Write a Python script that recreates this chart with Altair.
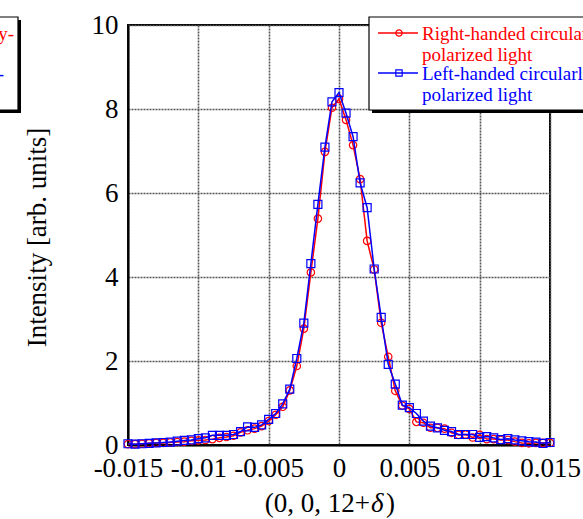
import altair as alt
import pandas as pd

# ---------------- data ----------------
delta = [-0.015, -0.0145, -0.014, -0.0135, -0.013, -0.0125, -0.012, -0.0115, -0.011, -0.0105,
         -0.01, -0.0095, -0.009, -0.0085, -0.008, -0.0075, -0.007, -0.0065, -0.006, -0.0055,
         -0.005, -0.0045, -0.004, -0.0035, -0.003, -0.0025, -0.002, -0.0015, -0.001, -0.0005,
         0.0,
         0.0005, 0.001, 0.0015, 0.002, 0.0025, 0.003, 0.0035, 0.004, 0.0045, 0.005,
         0.0055, 0.006, 0.0065, 0.007, 0.0075, 0.008, 0.0085, 0.009, 0.0095, 0.01,
         0.0105, 0.011, 0.0115, 0.012, 0.0125, 0.013, 0.0135, 0.014, 0.0145, 0.015]

right_handed = [0.02, 0.02, 0.03, 0.04, 0.05, 0.05, 0.06, 0.07, 0.08, 0.10,
                0.11, 0.12, 0.14, 0.17, 0.19, 0.22, 0.30, 0.35, 0.39, 0.45,
                0.57, 0.72, 0.91, 1.30, 1.88, 2.77, 4.11, 5.39, 6.98, 8.03,
                8.24,
                7.74, 7.14, 6.33, 4.86, 4.18, 2.91, 2.10, 1.29, 0.94, 0.86,
                0.55, 0.53, 0.41, 0.41, 0.39, 0.29, 0.24, 0.25, 0.18, 0.24,
                0.14, 0.14, 0.12, 0.12, 0.08, 0.05, 0.04, 0.05, 0.05, 0.05]

left_handed = [0.03, 0.02, 0.03, 0.04, 0.05, 0.06, 0.07, 0.09, 0.11, 0.12,
               0.15, 0.17, 0.23, 0.23, 0.23, 0.25, 0.32, 0.43, 0.42, 0.48,
               0.61, 0.75, 0.98, 1.33, 2.06, 2.90, 4.32, 5.73, 7.09, 8.17,
               8.39,
               7.90, 7.34, 6.24, 5.65, 4.19, 3.04, 1.92, 1.45, 0.95, 0.89,
               0.75, 0.57, 0.45, 0.41, 0.35, 0.32, 0.25, 0.25, 0.25, 0.18,
               0.20, 0.17, 0.13, 0.15, 0.12, 0.10, 0.08, 0.07, 0.04, 0.06]

x_ticks = [-0.015, -0.01, -0.005, 0, 0.005, 0.01, 0.015]
y_ticks = [0, 2, 4, 6, 8, 10]
legend_lines = ["Right-handed circularly-", "polarized light",
                "Left-handed circularly-", "polarized light"]

RED = "#ff0000"
BLUE = "#0000ff"
FONT = "Liberation Serif, Times New Roman, serif"

df_r = pd.DataFrame({"d": delta, "I": right_handed})
df_l = pd.DataFrame({"d": delta, "I": left_handed})

xs = alt.X("d:Q", scale=alt.Scale(domain=[-0.015, 0.015], nice=False, zero=False),
           axis=alt.Axis(values=x_ticks, labelExpr="'' + datum.value", title=None,
                         grid=True, ticks=False, labelFontSize=27, labelFont=FONT,
                         labelPadding=10, labelColor="black", labelFlush=False))
ys = alt.Y("I:Q", scale=alt.Scale(domain=[0, 10], nice=False),
           axis=alt.Axis(values=y_ticks, title="Intensity [arb. units]", grid=True,
                         ticks=False, labelFontSize=27, labelFont=FONT, labelPadding=10,
                         labelColor="black", titleFontSize=27, titleFont=FONT,
                         titleFontWeight="normal", titleColor="black",
                         titleX=-91, titleY=212, titleAngle=270,
                         titleAlign="center", titleBaseline="middle"))

red_line = alt.Chart(df_r).mark_line(color=RED, strokeWidth=1.5).encode(x=xs, y=ys)
red_pts = alt.Chart(df_r).mark_point(shape="circle", filled=False, size=55,
                                      strokeWidth=1.2, color=RED, opacity=1).encode(x=xs, y=ys)
blue_line = alt.Chart(df_l).mark_line(color=BLUE, strokeWidth=1.5).encode(x=xs, y=ys)
blue_pts = alt.Chart(df_l).mark_point(shape="square", filled=False, size=64,
                                       strokeWidth=1.2, color=BLUE, opacity=1).encode(x=xs, y=ys)

one = pd.DataFrame({"k": [0]})


def txt(s, x, y, color, size=19, align="left", italic=False, baseline="middle"):
    kw = dict(text=s, align=align, baseline=baseline, font=FONT, fontSize=size, color=color)
    if italic:
        kw["fontStyle"] = "italic"
    return alt.Chart(one).mark_text(**kw).encode(x=alt.value(x), y=alt.value(y))


def rect(x1, x2, y1, y2, fill, stroke=None, sw=0):
    kw = dict(fill=fill)
    if stroke:
        kw.update(stroke=stroke, strokeWidth=sw)
    return alt.Chart(one).mark_rect(**kw).encode(
        x=alt.value(x1), x2=alt.value(x2), y=alt.value(y1), y2=alt.value(y2))


def rule(x1, x2, y, color):
    return alt.Chart(one).mark_rule(color=color, strokeWidth=1.3).encode(
        x=alt.value(x1), x2=alt.value(x2), y=alt.value(y))


def sym(shape, x, y, color, size):
    return alt.Chart(one).mark_point(shape=shape, filled=False, size=size, strokeWidth=1.2,
                                     color=color, opacity=1).encode(x=alt.value(x), y=alt.value(y))


def legend_box(dx, right_aligned=False):
    layers = [
        rect(244 + dx, 491 + dx, -5, 88, "black"),
        rect(241 + dx, 488 + dx, -8, 85, "white", "black", 1.2),
        rule(250 + dx, 290 + dx, 8, RED),
        sym("circle", 271 + dx, 8, RED, 40),
        rule(250 + dx, 290 + dx, 48, BLUE),
        sym("square", 271 + dx, 48, BLUE, 40),
    ]
    if right_aligned:
        layers += [
            txt(legend_lines[0], -114, 9, RED, align="right"),
            txt(legend_lines[2], -124, 49, BLUE, align="right"),
        ]
    else:
        layers += [
            txt(legend_lines[0], 294 + dx, 9, RED),
            txt(legend_lines[1], 294 + dx, 30, RED),
            txt(legend_lines[2], 294 + dx, 49, BLUE),
            txt(legend_lines[3], 294 + dx, 70, BLUE),
        ]
    return layers


x_title = [
    txt("(0, 0, 12+", 242, 487, "black", size=27, align="right", baseline="alphabetic"),
    txt("δ", 243, 487, "black", size=27, italic=True, baseline="alphabetic"),
    txt(")", 258, 487, "black", size=27, baseline="alphabetic"),
]

chart = alt.layer(
    red_line, red_pts, blue_line, blue_pts,
    *legend_box(0), *legend_box(-598, right_aligned=True), *x_title
).properties(
    width=422, height=420,
    autosize=alt.AutoSizeParams(type="none"),
    padding={"left": 128, "top": 25, "right": 33, "bottom": 74},
    background="white",
).configure_view(
    stroke="black", strokeWidth=2
).configure_axis(
    domainColor="black", domainWidth=2,
    gridColor="#555555", gridDash=[2, 1], gridWidth=1.6, gridOpacity=1,
)

chart.save("out.html", embed_options={"renderer": "svg", "actions": False})
